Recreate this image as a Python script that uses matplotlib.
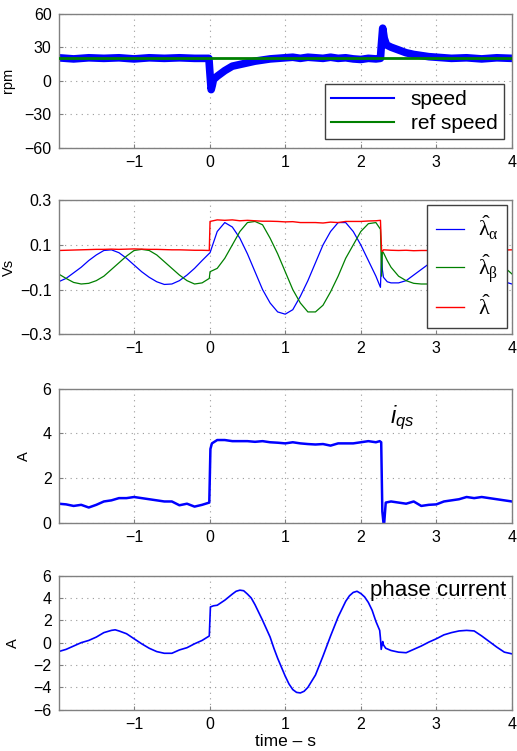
import numpy as np
import matplotlib.pyplot as plt

plt.rcParams['font.family'] = ['Liberation Sans', 'DejaVu Sans']
plt.rcParams['mathtext.fontset'] = 'custom'
plt.rcParams['mathtext.rm'] = 'Liberation Serif'
plt.rcParams['mathtext.it'] = 'Liberation Sans:italic'

# speed (rpm)
t_speed = [-2.0, -1.8, -1.6, -1.4, -1.2, -1.0, -0.8, -0.6, -0.4, -0.2, -0.01,
           0.0, 0.02, 0.035, 0.05, 0.1, 0.2, 0.3, 0.4, 0.5, 0.6, 0.7, 0.8, 0.9,
           1.0, 1.1, 1.2, 1.3, 1.4, 1.5, 1.6, 1.7, 1.8, 1.9, 2.0, 2.1, 2.2, 2.26,
           2.27, 2.29, 2.31, 2.34, 2.4, 2.5, 2.6, 2.7, 2.8, 2.9, 3.0, 3.2, 3.4,
           3.6, 3.8, 4.0]
speed = [20.5, 19.5, 20.5, 20, 20.5, 19.5, 20.5, 20, 20.5, 20, 20,
         10, -8, -4, 1, 4, 9, 13, 14.5, 16, 17.5, 18.5, 19.5, 20,
         20.5, 21, 20, 21, 20.5, 20, 21, 20, 20.5, 19.5, 19, 20, 19.5, 20,
         30, 47, 38, 32, 30, 27.5, 25, 23.5, 22.5, 21.5, 21, 20, 20.5,
         19.5, 20.5, 20]
ref_t = [-2, 4]
ref_speed = [20, 20]

# flux estimates (Vs)
t_flux = [-2.0, -1.9, -1.8, -1.7, -1.6, -1.5, -1.4, -1.3, -1.2, -1.1, -1.0,
          -0.9, -0.8, -0.7, -0.6, -0.5, -0.4, -0.3, -0.2, -0.1, -0.005,
          0.005, 0.1, 0.2, 0.3, 0.4, 0.5, 0.6, 0.7, 0.8, 0.9, 1.0, 1.1, 1.2,
          1.3, 1.4, 1.5, 1.6, 1.7, 1.8, 1.9, 2.0, 2.1, 2.2, 2.26, 2.275,
          2.285, 2.3, 2.35, 2.4, 2.5, 2.6, 2.7, 2.8, 2.9, 3.0, 3.2, 3.4, 3.6,
          3.8, 3.9, 4.0]
lam_a = [-0.065, -0.05, -0.025, 0.0, 0.03, 0.055, 0.075, 0.078, 0.065, 0.04,
         0.01, -0.02, -0.045, -0.065, -0.077, -0.075, -0.06, -0.035, -0.005,
         0.03, 0.062,
         0.065, 0.16, 0.2, 0.18, 0.13, 0.06, -0.02, -0.1, -0.16, -0.2, -0.21,
         -0.19, -0.13, -0.06, 0.02, 0.1, 0.16, 0.2, 0.2, 0.16, 0.1, 0.03, -0.04,
         -0.09, 0.06,
         -0.01, -0.045, -0.065, -0.07, -0.07, -0.06, -0.035, -0.01, 0.015,
         0.03, 0.05, 0.06, 0.02, -0.04, -0.065, -0.075]
lam_b = [-0.03, -0.05, -0.068, -0.075, -0.072, -0.06, -0.04, -0.01, 0.02,
         0.05, 0.075, 0.08, 0.075, 0.055, 0.025, -0.005, -0.035, -0.06,
         -0.075, -0.07, -0.05,
         -0.02, -0.005, 0.04, 0.1, 0.16, 0.2, 0.205, 0.19, 0.13, 0.06, -0.02,
         -0.1, -0.16, -0.2, -0.2, -0.17, -0.11, -0.04, 0.04, 0.1, 0.16, 0.195,
         0.2, 0.17, -0.04,
         0.07, 0.065, 0.03, 0.0, -0.04, -0.06, -0.072, -0.075, -0.075, -0.07,
         -0.05, -0.02, 0.01, 0.01, 0.0, -0.03]
lam_mag = [0.075, 0.076, 0.077, 0.078, 0.079, 0.08, 0.08, 0.081, 0.08, 0.081,
           0.082, 0.081, 0.08, 0.08, 0.079, 0.078, 0.078, 0.077, 0.076, 0.076,
           0.075,
           0.205, 0.212, 0.21, 0.212, 0.208, 0.21, 0.208, 0.206, 0.206, 0.205,
           0.203, 0.204, 0.2, 0.2, 0.2, 0.198, 0.202, 0.2, 0.205, 0.205, 0.205,
           0.207, 0.208, 0.21, 0.075,
           0.07, 0.078, 0.077, 0.076, 0.075, 0.076, 0.074, 0.075, 0.075,
           0.074, 0.075, 0.076, 0.075, 0.078, 0.077, 0.078]

# i_qs (A)
t_iqs = [-2.0, -1.9, -1.8, -1.7, -1.6, -1.5, -1.4, -1.3, -1.2, -1.1, -1.0,
         -0.9, -0.8, -0.7, -0.6, -0.5, -0.4, -0.3, -0.2, -0.1, -0.005,
         0.01, 0.03, 0.1, 0.2, 0.3, 0.4, 0.5, 0.6, 0.7, 0.8, 0.9, 1.0, 1.1,
         1.2, 1.3, 1.4, 1.5, 1.6, 1.7, 1.8, 1.9, 2.0, 2.1, 2.2, 2.25, 2.27,
         2.285, 2.3, 2.31, 2.33, 2.4, 2.5, 2.6, 2.7, 2.8, 2.9, 3.0, 3.1, 3.2,
         3.3, 3.4, 3.5, 3.6, 3.7, 3.8, 3.9, 4.0]
iqs = [0.85, 0.82, 0.75, 0.8, 0.68, 0.8, 0.95, 1.0, 1.1, 1.1, 1.15,
       1.1, 1.05, 1.0, 0.95, 0.95, 0.78, 0.85, 0.72, 0.8, 0.9,
       3.3, 3.55, 3.7, 3.7, 3.65, 3.65, 3.65, 3.62, 3.65, 3.6, 3.58, 3.55, 3.6,
       3.55, 3.52, 3.5, 3.52, 3.45, 3.55, 3.55, 3.55, 3.6, 3.65, 3.6, 3.65, 3.6,
       0.5, 0.0, 0.0, 0.9, 0.95, 0.9, 0.85, 0.95, 0.75, 0.8, 0.82, 0.95, 1.0,
       1.05, 1.15, 1.1, 1.15, 1.1, 1.05, 1.0, 0.95]

# phase current (A)
t_ph = [-2.0, -1.9, -1.8, -1.7, -1.6, -1.5, -1.4, -1.3, -1.25, -1.2, -1.1,
        -1.0, -0.9, -0.8, -0.7, -0.6, -0.5, -0.4, -0.3, -0.2, -0.1, -0.005,
        0.01, 0.05, 0.1, 0.2, 0.3, 0.35, 0.4, 0.45, 0.5, 0.55, 0.6, 0.7, 0.8,
        0.85, 0.9, 1.0, 1.05, 1.1, 1.15, 1.2, 1.25, 1.3, 1.4, 1.5, 1.55, 1.6,
        1.7, 1.8, 1.85, 1.9, 1.95, 2.0, 2.05, 2.1, 2.15, 2.2, 2.25, 2.26,
        2.27, 2.29, 2.3, 2.33, 2.4, 2.5, 2.6, 2.7, 2.8, 2.9, 3.0, 3.1, 3.2,
        3.3, 3.4, 3.5, 3.6, 3.7, 3.8, 3.9, 4.0]
i_ph = [-0.8, -0.6, -0.3, 0.0, 0.2, 0.5, 0.9, 1.1, 1.15, 1.05, 0.8,
        0.35, -0.1, -0.5, -0.8, -0.95, -0.95, -0.65, -0.45, -0.1, 0.2, 0.6,
        3.2, 3.3, 3.35, 3.8, 4.35, 4.6, 4.7, 4.65, 4.35, 4.0, 3.4, 2.0, 0.5,
        -0.5, -1.4, -3.0, -3.7, -4.2, -4.45, -4.5, -4.35, -4.0, -2.9, -1.2,
        -0.3, 0.6, 2.3, 3.7, 4.2, 4.5, 4.6, 4.4, 4.1, 3.6, 2.9, 1.9, 1.1, 0.4,
        -0.6, 0.1, -0.2, -0.5, -0.7, -0.85, -0.9, -0.6, -0.3, 0.05, 0.35, 0.7,
        0.9, 1.05, 1.1, 1.05, 0.6, 0.1, -0.4, -0.85, -1.0]

xticks = [-1, 0, 1, 2, 3, 4]
grey = '#808080'

fig = plt.figure(figsize=(5.17, 7.51), dpi=100)
bottoms = [0.8033, 0.5549, 0.304, 0.055]
axs = [fig.add_axes([0.1132, b, 0.877, 0.1785]) for b in bottoms]


def fmt(v):
    return ('\u2212' + str(abs(v))) if v < 0 else str(v)


def style(ax, yticks, ylab):
    ax.set_xlim(-2, 4)
    ax.set_ylim(yticks[0], yticks[-1])
    ax.set_xticks(xticks)
    ax.set_xticklabels([fmt(v) for v in xticks])
    ax.set_yticks(yticks)
    ax.set_yticklabels([fmt(v) for v in yticks])
    ax.tick_params(direction='in', length=3, labelsize=11.5, color=grey, pad=5)
    ax.grid(True, linestyle=(0, (1, 4)), color='#999999', linewidth=0.8)
    for s in ax.spines.values():
        s.set_color(grey)
        s.set_linewidth(1.0)
    ax.set_ylabel(ylab, fontsize=10.5)


ax = axs[0]
ax.plot(t_speed, speed, color='#0000ff', lw=5.5, label='speed', zorder=2)
ax.plot(ref_t, ref_speed, color='#008000', lw=2, label='ref speed', zorder=3)
style(ax, [-60, -30, 0, 30, 60], 'rpm')
ax.yaxis.set_label_coords(-0.095, 0.5)
leg = ax.legend(loc='lower right', fontsize=15, fancybox=False, framealpha=1,
                edgecolor='#404040', handlelength=3, borderaxespad=0.4,
                borderpad=0.3, labelspacing=0.25)
leg.get_lines()[0].set_linewidth(1.5)
leg.get_lines()[1].set_linewidth(1.5)

ax = axs[1]
ax.plot(t_flux, lam_a, color='#0000ff', lw=0.9, label=r'$\hat{\mathrm{\lambda}}_\mathrm{\alpha}$')
ax.plot(t_flux, lam_b, color='#008000', lw=0.9, label=r'$\hat{\mathrm{\lambda}}_\mathrm{\beta}$')
ax.plot(t_flux, lam_mag, color='#ff0000', lw=1.0, label=r'$\hat{\mathrm{\lambda}}$')
style(ax, [-0.3, -0.1, 0.1, 0.3], 'Vs')
ax.yaxis.set_label_coords(-0.095, 0.5)
ax.legend(loc='upper right', fontsize=16, fancybox=False, framealpha=1,
          edgecolor='#404040', handlelength=1.3, borderaxespad=0.2,
          labelspacing=0.45, borderpad=0.4, handletextpad=0.6)

ax = axs[2]
ax.plot(t_iqs, iqs, color='#0000ff', lw=1.8)
style(ax, [0, 2, 4, 6], 'A')
ax.yaxis.set_label_coords(-0.06, 0.5)
ax.text(2.55, 4.7, r'$i_{qs}$', fontsize=17, ha='center', va='center')

ax = axs[3]
ax.plot(t_ph, i_ph, color='#0000ff', lw=1.2)
style(ax, [-6, -4, -2, 0, 2, 4, 6], 'A')
ax.yaxis.set_label_coords(-0.085, 0.5)
ax.text(3.93, 4.7, 'phase current', fontsize=16, ha='right', va='center')
ax.set_xlabel('time \u2013 s', fontsize=12.5, labelpad=2)

fig.savefig('out.png', dpi=100)
